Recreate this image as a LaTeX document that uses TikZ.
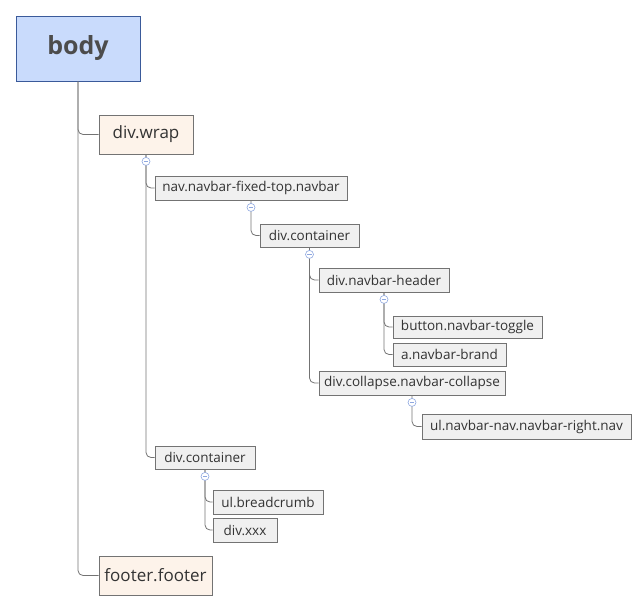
\documentclass[tikz,border=0pt]{standalone}
\usepackage{fontspec}
\setmainfont{Open Sans}
\definecolor{bodyfill}{HTML}{C9DBFC}
\definecolor{bodyline}{HTML}{3A5A9A}
\definecolor{midfill}{HTML}{FDF3EA}
\definecolor{leaffill}{HTML}{F0F0F0}
\definecolor{togc}{HTML}{8FA8E0}
\begin{document}
\begin{tikzpicture}[x=1pt,y=-1pt,
  base/.style={draw=black!55,line width=0.8pt,inner sep=0pt,text=black!80},
  top/.style={base,draw=bodyline,fill=bodyfill,font=\fontsize{25}{29}\selectfont\bfseries,text=black!70},
  mid/.style={base,fill=midfill,font=\fontsize{17}{20}\selectfont},
  leaf/.style={base,fill=leaffill,font=\fontsize{13.5}{16}\selectfont},
  conn/.style={draw=black!55,line width=0.8pt,rounded corners=5pt},
  tog/.style={circle,draw=togc,fill=white,line width=0.6pt,minimum size=8pt,inner sep=0pt,path picture={\draw[togc,line width=0.6pt] ([xshift=-2.2pt]path picture bounding box.center)--([xshift=2.2pt]path picture bounding box.center);}}]
\useasboundingbox (0,0) rectangle (644,611);
\node[top,minimum width=124,minimum height=65] (body) at (78,48.5) {body};
\node[mid,minimum width=94,minimum height=39] (wrap) at (146,134.5) {div.wrap};
\node[leaf,minimum width=192,minimum height=24] (nav) at (251,188) {nav.navbar-fixed-top.navbar};
\node[leaf,minimum width=99,minimum height=23] (cont1) at (309.5,235.5) {div.container};
\node[leaf,minimum width=130,minimum height=24] (head) at (384,280) {div.navbar-header};
\node[leaf,minimum width=149,minimum height=22] (btn) at (467.5,327) {button.navbar-toggle};
\node[leaf,minimum width=113,minimum height=23] (brand) at (449.5,354.5) {a.navbar-brand};
\node[leaf,minimum width=186,minimum height=24] (coll) at (412,383) {div.collapse.navbar-collapse};
\node[leaf,minimum width=209,minimum height=25] (ul) at (526.5,426.5) {ul.navbar-nav.navbar-right.nav};
\node[leaf,minimum width=100,minimum height=23] (cont2) at (205,457.5) {div.container};
\node[leaf,minimum width=110,minimum height=24] (bc) at (268,502) {ul.breadcrumb};
\node[leaf,minimum width=64,minimum height=24] (xxx) at (245,530) {div.xxx};
\node[mid,minimum width=113,minimum height=39] (foot) at (155.5,575.5) {footer.footer};
% connectors
\draw[conn] (body.south) |- (wrap.west);
\draw[conn] (body.south) |- (foot.west);
\draw[conn] (wrap.south) |- (nav.west);
\draw[conn] (wrap.south) |- (cont2.west);
\draw[conn] (nav.south) |- (cont1.west);
\draw[conn] (cont1.south) |- (head.west);
\draw[conn] (cont1.south) |- (coll.west);
\draw[conn] (head.south) |- (btn.west);
\draw[conn] (head.south) |- (brand.west);
\draw[conn] (coll.south) |- (ul.west);
\draw[conn] (cont2.south) |- (bc.west);
\draw[conn] (cont2.south) |- (xxx.west);
% collapse toggles
\foreach \n in {wrap,nav,cont1,head,coll,cont2}
  \node[tog] (t\n) at ([yshift=-7]\n.south) {};
\end{tikzpicture}
\end{document}
